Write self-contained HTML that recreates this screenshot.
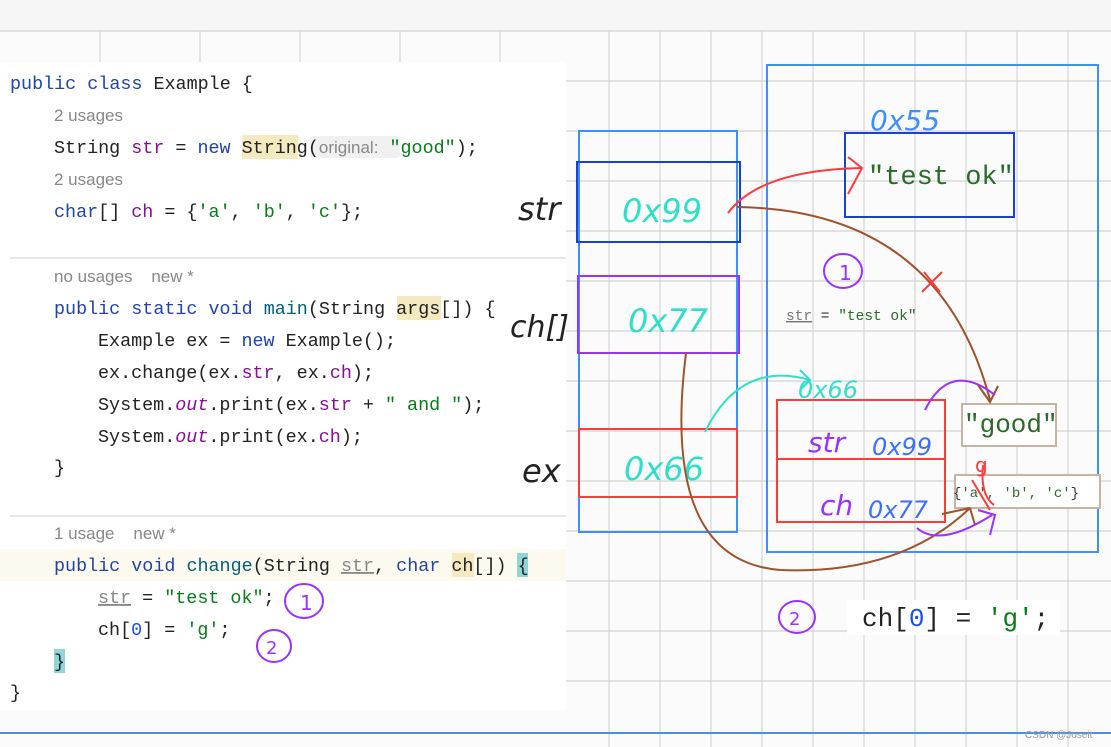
<!DOCTYPE html>
<html><head><meta charset="utf-8"><style>
html,body{margin:0;padding:0;background:#fff;}
svg{display:block;}
.m{font-family:"Liberation Mono",monospace;font-size:18.4px;fill:#222;}
.h{font-family:"Liberation Sans",sans-serif;font-size:17px;fill:#888;}
.k{fill:#1f45a8;} .f{fill:#871094;} .s{fill:#067d17;} .i{font-style:italic;fill:#871094;}
.hw{font-family:"DejaVu Sans",sans-serif;font-weight:200;font-style:italic;}
</style></head><body>
<svg width="1111" height="747" viewBox="0 0 1111 747" xmlns="http://www.w3.org/2000/svg">
<rect width="1111" height="747" fill="#fbfbfb"/>
<rect width="1111" height="31" fill="#f6f6f6"/>
<g stroke="#d4d4d4" stroke-width="1.2">
<line x1="0" y1="31" x2="1111" y2="31"/><line x1="0" y1="81" x2="1111" y2="81"/><line x1="0" y1="131" x2="1111" y2="131"/><line x1="0" y1="181" x2="1111" y2="181"/><line x1="0" y1="231" x2="1111" y2="231"/><line x1="0" y1="281" x2="1111" y2="281"/><line x1="0" y1="331" x2="1111" y2="331"/><line x1="0" y1="381" x2="1111" y2="381"/><line x1="0" y1="431" x2="1111" y2="431"/><line x1="0" y1="481" x2="1111" y2="481"/><line x1="0" y1="531" x2="1111" y2="531"/><line x1="0" y1="581" x2="1111" y2="581"/><line x1="0" y1="631" x2="1111" y2="631"/><line x1="0" y1="681" x2="1111" y2="681"/>
<line x1="609" y1="31" x2="609" y2="747"/><line x1="660" y1="31" x2="660" y2="747"/><line x1="711" y1="31" x2="711" y2="747"/><line x1="762" y1="31" x2="762" y2="747"/><line x1="813" y1="31" x2="813" y2="747"/><line x1="864" y1="31" x2="864" y2="747"/><line x1="915" y1="31" x2="915" y2="747"/><line x1="966" y1="31" x2="966" y2="747"/><line x1="1017" y1="31" x2="1017" y2="747"/><line x1="1068" y1="31" x2="1068" y2="747"/>
<line x1="100" y1="31" x2="100" y2="62"/><line x1="200" y1="31" x2="200" y2="62"/><line x1="300" y1="31" x2="300" y2="62"/><line x1="400" y1="31" x2="400" y2="62"/><line x1="500" y1="31" x2="500" y2="62"/>
</g>
<line x1="0" y1="733" x2="1111" y2="733" stroke="#4a90e2" stroke-width="2"/>
<rect x="0" y="62" width="566" height="648" fill="#fff"/>
<rect x="0" y="549" width="566" height="32" fill="#fcfaee"/>
<line x1="10" y1="258" x2="566" y2="258" stroke="#ccc"/>
<line x1="10" y1="516" x2="566" y2="516" stroke="#ccc"/>
<rect x="242" y="135" width="56" height="24" fill="#f5e9c0"/>
<rect x="310" y="136" width="90" height="22" fill="#f0f0f0" rx="3"/>
<rect x="397" y="296" width="44" height="24" fill="#f5e9c0"/>
<rect x="452" y="553" width="22" height="24" fill="#f5e9c0"/>
<rect x="517" y="553" width="11" height="24" fill="#8fd6d6"/>
<rect x="54" y="649" width="11" height="24" fill="#8fd6d6"/>
<text class="m" x="10" y="89"><tspan class="k">public class</tspan> Example {</text>
<text class="h" x="54" y="121">2 usages</text>
<text class="m" x="54" y="153">String <tspan class="f">str</tspan> = <tspan class="k">new</tspan> String(<tspan class="h" font-size="17">original:</tspan> <tspan class="s">"good"</tspan>);</text>
<text class="h" x="54" y="185">2 usages</text>
<text class="m" x="54" y="217"><tspan class="k">char</tspan>[] <tspan class="f">ch</tspan> = {<tspan class="s">'a'</tspan>, <tspan class="s">'b'</tspan>, <tspan class="s">'c'</tspan>};</text>
<text class="h" x="54" y="282">no usages&#160;&#160;&#160; new *</text>
<text class="m" x="54" y="314"><tspan class="k">public static void</tspan> <tspan fill="#00627a">main</tspan>(String args[]) {</text>
<text class="m" x="98" y="346">Example ex = <tspan class="k">new</tspan> Example();</text>
<text class="m" x="98" y="378">ex.change(ex.<tspan class="f">str</tspan>, ex.<tspan class="f">ch</tspan>);</text>
<text class="m" x="98" y="410">System.<tspan class="i">out</tspan>.print(ex.<tspan class="f">str</tspan> + <tspan class="s">" and "</tspan>);</text>
<text class="m" x="98" y="442">System.<tspan class="i">out</tspan>.print(ex.<tspan class="f">ch</tspan>);</text>
<text class="m" x="54" y="473">}</text>
<text class="h" x="54" y="539">1 usage&#160;&#160;&#160; new *</text>
<text class="m" x="54" y="571"><tspan class="k">public void</tspan> <tspan fill="#00627a">change</tspan>(String <tspan fill="#888" text-decoration="underline">str</tspan>, <tspan class="k">char</tspan> ch[]) {</text>
<text class="m" x="98" y="603"><tspan fill="#888" text-decoration="underline">str</tspan> = <tspan class="s">"test ok"</tspan>;</text>
<text class="m" x="98" y="635">ch[<tspan fill="#1750eb">0</tspan>] = <tspan class="s">'g'</tspan>;</text>
<text class="m" x="54" y="667">}</text>
<text class="m" x="10" y="698">}</text>
<g fill="none" stroke="#9b30ff" stroke-width="2">
<ellipse cx="304" cy="601" rx="19" ry="17"/><ellipse cx="274" cy="646" rx="17" ry="16"/>
<ellipse cx="843" cy="271" rx="19" ry="17"/><ellipse cx="797" cy="617" rx="18" ry="16"/>
</g>
<text x="300" y="610" font-family="DejaVu Sans" font-size="20" fill="#9b30ff">1</text>
<text x="266" y="654" font-family="DejaVu Sans" font-size="18" fill="#9b30ff">2</text>
<text x="839" y="280" font-family="DejaVu Sans" font-size="20" fill="#9b30ff">1</text>
<text x="789" y="625" font-family="DejaVu Sans" font-size="18" fill="#9b30ff">2</text>
<rect x="579" y="131" width="158" height="401" fill="none" stroke="#3b8fff" stroke-width="2"/>
<rect x="577" y="162" width="163" height="80" fill="none" stroke="#1a3fe0" stroke-width="2"/>
<rect x="578" y="276" width="161" height="77" fill="none" stroke="#9b30ff" stroke-width="2"/>
<rect x="579" y="429" width="158" height="68" fill="none" stroke="#ff3a3a" stroke-width="2"/>
<text class="hw" x="518" y="220" font-size="32" fill="#222">str</text>
<text class="hw" x="510" y="337" font-size="30" fill="#222">ch[]</text>
<text class="hw" x="522" y="482" font-size="32" fill="#222">ex</text>
<text class="hw" x="622" y="222" font-size="32" fill="#2ee0c8">0x99</text>
<text class="hw" x="628" y="332" font-size="32" fill="#2ee0c8">0x77</text>
<text class="hw" x="624" y="480" font-size="32" fill="#2ee0c8">0x66</text>
<rect x="767" y="65" width="331" height="487" fill="none" stroke="#3b8fff" stroke-width="2"/>
<text class="hw" x="870" y="130" font-size="28" fill="#3b8fff">0x55</text>
<rect x="845" y="133" width="169" height="84" fill="none" stroke="#1a3fe0" stroke-width="2"/>
<text x="868" y="184" font-family="Liberation Mono" font-size="27" fill="#2a6b2a">"test ok"</text>
<text x="786" y="320" font-family="Liberation Mono" font-size="14.5" fill="#2a6b2a"><tspan fill="#777" text-decoration="underline">str</tspan><tspan fill="#333"> = </tspan>"test ok"</text>
<text class="hw" x="798" y="398" font-size="24" fill="#2ee0c8">0x66</text>
<rect x="777" y="400" width="168" height="122" fill="none" stroke="#ff3a3a" stroke-width="2"/>
<line x1="777" y1="459" x2="945" y2="459" stroke="#ff3a3a" stroke-width="2"/>
<text class="hw" x="808" y="452" font-size="28" fill="#9b30ff">str</text>
<text class="hw" x="872" y="455" font-size="24" fill="#3b6fff">0x99</text>
<text class="hw" x="820" y="515" font-size="28" fill="#9b30ff">ch</text>
<text class="hw" x="868" y="518" font-size="24" fill="#3b6fff">0x77</text>
<rect x="962" y="404" width="94" height="42" fill="#fff" stroke="#c8b4a0" stroke-width="2"/>
<text x="964" y="432" font-family="Liberation Mono" font-size="26" fill="#2a6b2a">"good"</text>
<rect x="955" y="475" width="145" height="33" fill="#fff" stroke="#c8b4a0" stroke-width="2"/>
<text x="953" y="497" font-family="Liberation Mono" font-size="14" fill="#2a6b2a"><tspan fill="#333">{</tspan>'a', 'b', 'c'<tspan fill="#333">}</tspan></text>
<rect x="847" y="600" width="213" height="35" fill="#fff"/>
<text x="862" y="626" font-family="Liberation Mono" font-size="26" fill="#222">ch[<tspan fill="#1750eb">0</tspan>] = <tspan class="s">'g'</tspan>;</text>
<g fill="none" stroke-width="2">
<path d="M728 213 Q760 170 862 168" stroke="#ff3a3a"/>
<path d="M848 157 L862 168 L848 194" stroke="#ff3a3a"/>
<path d="M737 207 Q940 210 990 400" stroke="#a0522d"/>
<path d="M978 385 L990 402 L998 386" stroke="#a0522d"/>
<path d="M924 272 L940 292 M942 272 L922 292" stroke="#ff3a3a"/>
<path d="M686 353 Q660 560 780 570 Q900 575 970 508" stroke="#a0522d"/>
<path d="M942 514 L970 508 M975 525 L970 508" stroke="#a0522d"/>
<path d="M705 432 Q740 360 810 380" stroke="#2ee0c8"/>
<path d="M800 370 L810 380 L800 390" stroke="#2ee0c8"/>
<path d="M925 410 Q950 360 995 395" stroke="#9b30ff"/>
<path d="M917 528 Q940 548 992 515" stroke="#9b30ff"/>
<path d="M978 510 L995 515 L990 535" stroke="#9b30ff"/>
<path d="M972 480 L990 510 M983 465 Q980 495 994 505" stroke="#ff3a3a"/>
</g>
<text x="975" y="472" font-family="DejaVu Sans" font-size="20" fill="#ff3a3a">g</text>
<text x="1025" y="738" font-family="Liberation Sans" font-size="10" fill="#999">CSDN @Joseit</text>
</svg>
</body></html>
